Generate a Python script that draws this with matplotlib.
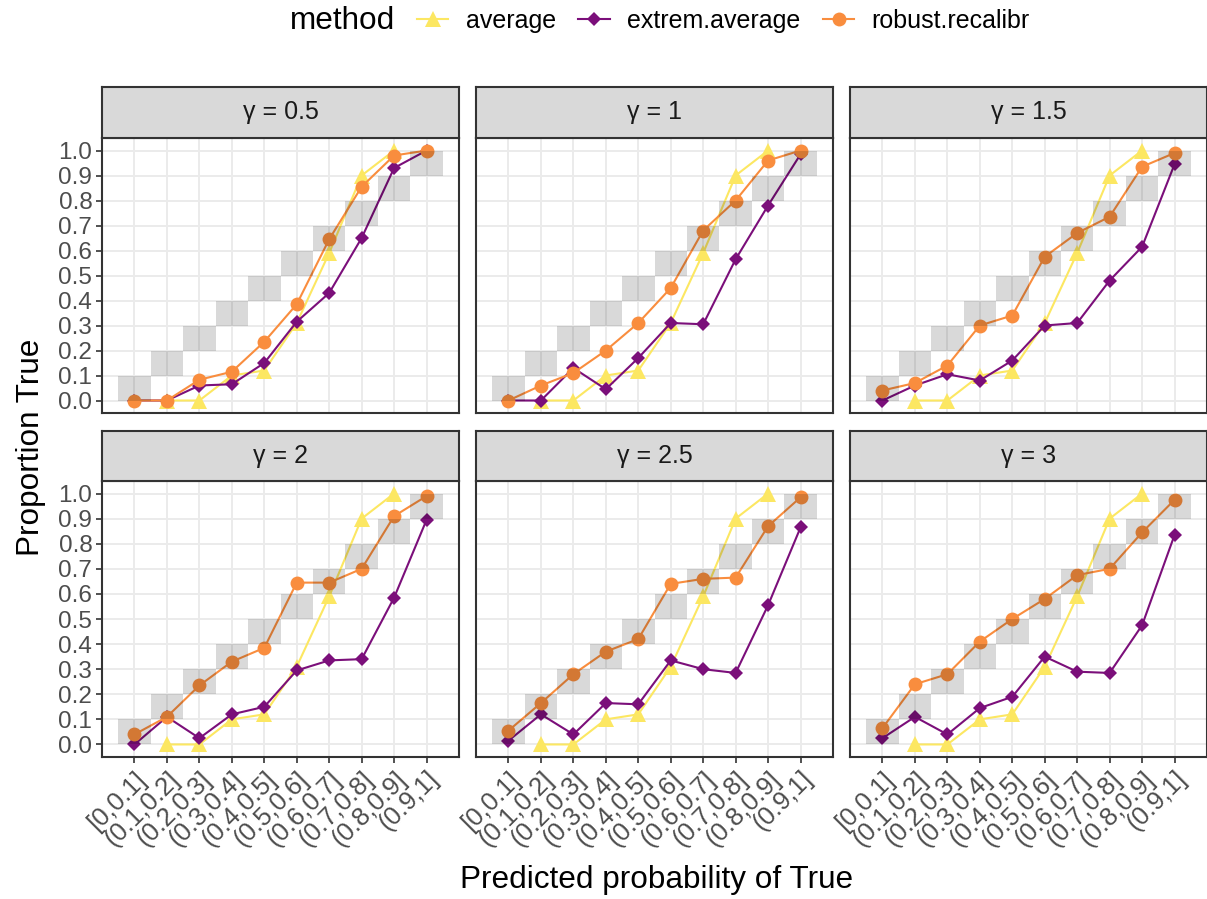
import numpy as np
import matplotlib
matplotlib.use('Agg')
import matplotlib.pyplot as plt
from matplotlib.lines import Line2D

plt.rcParams['font.family'] = ['Liberation Sans', 'DejaVu Sans']

# bins of predicted probability
bins = ['[0,0.1]', '(0.1,0.2]', '(0.2,0.3]', '(0.3,0.4]', '(0.4,0.5]',
        '(0.5,0.6]', '(0.6,0.7]', '(0.7,0.8]', '(0.8,0.9]', '(0.9,1]']
bin_lo = [0.0, 0.1, 0.2, 0.3, 0.4, 0.5, 0.6, 0.7, 0.8, 0.9]
bin_hi = [0.1, 0.2, 0.3, 0.4, 0.5, 0.6, 0.7, 0.8, 0.9, 1.0]

gammas = ['0.5', '1', '1.5', '2', '2.5', '3']

nan = np.nan
# plain averaging does not depend on gamma, no obs in the outer bins
average = [nan, 0.00, 0.00, 0.10, 0.12, 0.31, 0.59, 0.90, 1.00, nan]

extrem_g05 = [0.00, 0.00, 0.06, 0.065, 0.15, 0.315, 0.43, 0.65, 0.93, 1.00]
extrem_g1 = [0.00, 0.00, 0.13, 0.045, 0.17, 0.31, 0.305, 0.565, 0.78, 0.985]
extrem_g15 = [0.00, 0.06, 0.105, 0.08, 0.16, 0.30, 0.31, 0.48, 0.615, 0.945]
extrem_g2 = [0.00, 0.11, 0.025, 0.12, 0.15, 0.295, 0.335, 0.34, 0.585, 0.895]
extrem_g25 = [0.015, 0.12, 0.04, 0.165, 0.16, 0.335, 0.30, 0.285, 0.555, 0.865]
extrem_g3 = [0.025, 0.11, 0.04, 0.145, 0.19, 0.35, 0.29, 0.285, 0.475, 0.835]

robust_g05 = [0.00, 0.00, 0.083, 0.115, 0.235, 0.385, 0.645, 0.855, 0.98, 1.00]
robust_g1 = [0.00, 0.06, 0.11, 0.20, 0.31, 0.45, 0.68, 0.80, 0.96, 1.00]
robust_g15 = [0.04, 0.07, 0.14, 0.30, 0.34, 0.575, 0.67, 0.735, 0.935, 0.99]
robust_g2 = [0.04, 0.11, 0.235, 0.33, 0.385, 0.645, 0.645, 0.70, 0.91, 0.99]
robust_g25 = [0.055, 0.165, 0.28, 0.37, 0.42, 0.64, 0.66, 0.665, 0.87, 0.985]
robust_g3 = [0.065, 0.24, 0.28, 0.41, 0.50, 0.58, 0.675, 0.70, 0.845, 0.975]

extrem = [extrem_g05, extrem_g1, extrem_g15, extrem_g2, extrem_g25, extrem_g3]
robust = [robust_g05, robust_g1, robust_g15, robust_g2, robust_g25, robust_g3]

c_avg = '#FCE762'
c_ext = '#7B0F7A'
c_rob = '#F98D3E'
dark = '#333333'

W, H = 1207, 899
fig = plt.figure(figsize=(W / 100, H / 100), dpi=100)

col_left = [102, 476, 850]
pw = 357
rows = [(87, 138, 413), (431, 481, 757)]  # strip top, panel top, panel bottom

x = np.arange(1, 11)
lw = 1.5
st_avg = dict(color=c_avg, lw=lw, marker='^', ms=12, mew=0)
st_ext = dict(color=c_ext, lw=lw, marker='D', ms=7, mew=0)
st_rob = dict(color=c_rob, lw=lw, marker='o', ms=10, mew=0)

for i, g in enumerate(gammas):
    r, c = divmod(i, 3)
    st, pt, pb = rows[r]
    l = col_left[c]
    ax = fig.add_axes([l / W, 1 - pb / H, pw / W, (pb - pt) / H])
    strip = fig.add_axes([l / W, 1 - pt / H, pw / W, (pt - st) / H])

    ax.plot(x, average, zorder=3, **st_avg)
    ax.plot(x, extrem[i], zorder=3.1, **st_ext)
    ax.plot(x, robust[i], zorder=3.2, **st_rob)

    # perfect-calibration band per bin
    ax.bar(x, np.subtract(bin_hi, bin_lo), bottom=bin_lo, width=1,
           color='black', alpha=0.15, lw=0, zorder=5)

    ax.set_xlim(0, 11)
    ax.set_ylim(-0.05, 1.05)
    ax.set_xticks(x)
    ax.set_yticks(np.round(np.arange(0, 1.01, 0.1), 1))
    ax.set_yticklabels(['%.1f' % v for v in np.arange(0, 1.01, 0.1)])
    ax.set_axisbelow(True)
    ax.grid(color='#EBEBEB', lw=1.4)
    for s in ax.spines.values():
        s.set_color(dark)
        s.set_linewidth(1.5)
        s.set_zorder(6)
    ax.tick_params(length=4, width=1.2, color=dark, labelcolor='#4D4D4D',
                   labelsize=17.5, pad=3)
    if r == 0:
        ax.tick_params(bottom=False, labelbottom=False)
    else:
        ax.set_xticklabels(bins, rotation=45, ha='right', va='top',
                           rotation_mode='anchor', fontsize=18.5)
    if c > 0:
        ax.tick_params(left=False, labelleft=False)

    strip.set_facecolor('#D9D9D9')
    strip.set_xticks([])
    strip.set_yticks([])
    for s in strip.spines.values():
        s.set_color(dark)
        s.set_linewidth(1.5)
    strip.text(0.5, 0.5, 'γ = ' + g, ha='center', va='center',
               fontsize=18, color='#1A1A1A', transform=strip.transAxes)

handles = [Line2D([], [], **st_avg), Line2D([], [], **st_ext),
           Line2D([], [], **st_rob)]
fig.legend(handles, ['average', 'extrem.average', 'robust.recalibr'],
           loc='center left', bbox_to_anchor=(417 / W, 1 - 21 / H), ncol=3,
           frameon=False, fontsize=18, handlelength=1.25, handletextpad=0.7,
           columnspacing=0.9, borderpad=0, borderaxespad=0)
fig.text(290 / W, 1 - 21 / H, 'method', fontsize=22.7, va='center', ha='left')

fig.text(31 / W, 1 - 447 / H, 'Proportion True', rotation=90,
         va='center', ha='center', fontsize=22.7)
fig.text(657 / W, 1 - 880 / H, 'Predicted probability of True',
         va='center', ha='center', fontsize=22.7)

fig.savefig('out.png', dpi=100)
